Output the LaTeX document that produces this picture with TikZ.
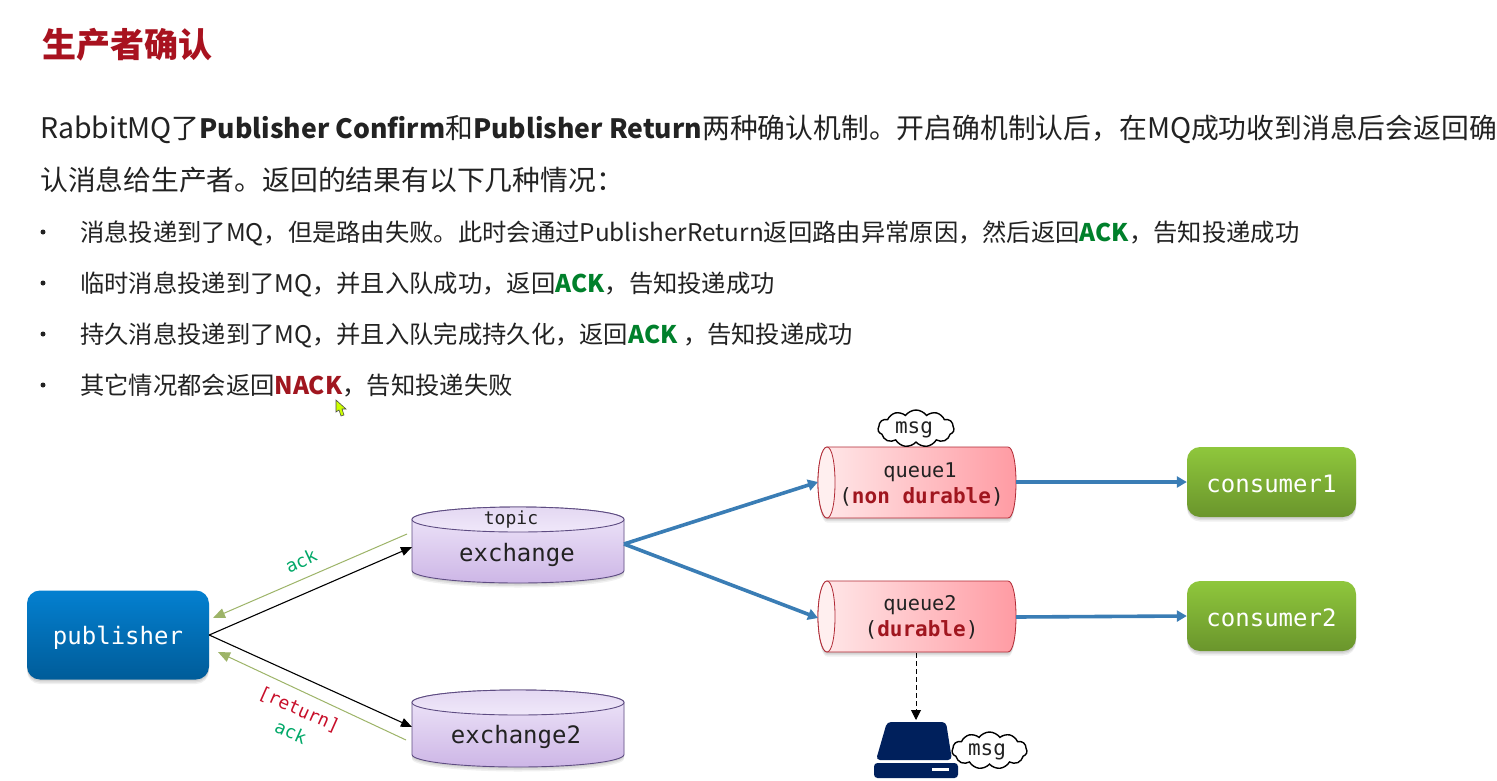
\documentclass[tikz,border=0pt]{standalone}
\usepackage{fontspec}
\setmainfont{Noto Sans CJK SC}
\setmonofont{DejaVu Sans Mono}
\usetikzlibrary{arrows.meta,shapes.symbols,shadows,calc}
\definecolor{titlered}{HTML}{A8121F}
\definecolor{okgreen}{HTML}{00802B}
\definecolor{ackgreen}{HTML}{00A868}
\definecolor{retred}{HTML}{C80F2A}
\definecolor{dkred}{HTML}{A0161F}
\definecolor{ink}{HTML}{222222}
\definecolor{flow}{HTML}{3A7DB5}
\definecolor{olive}{HTML}{9DB468}
\definecolor{navy}{HTML}{00205C}
\definecolor{lav}{HTML}{5E4C82}
\definecolor{pubtop}{HTML}{0480D0}
\definecolor{pubbot}{HTML}{005C99}
\definecolor{contop}{HTML}{8FC73C}
\definecolor{conbot}{HTML}{6A952C}
\definecolor{lavlight}{HTML}{F0E8FA}
\definecolor{lavdark}{HTML}{CDB6E6}
\definecolor{lavmid}{HTML}{E4D8F2}
\definecolor{qedge}{HTML}{B02A35}
\definecolor{qleft}{HTML}{FFE9EA}
\definecolor{qright}{HTML}{FF9BA3}
\definecolor{qcapf}{HTML}{FFEFEF}
\newcommand{\fs}[1]{\fontsize{#1}{#1}\selectfont}
\newcommand{\ok}[1]{\textcolor{okgreen}{\textbf{#1}}}
\newcommand{\lat}[1]{{\fs{26.6}#1}}
\newcommand{\reg}[1]{{\fs{28.4}#1}}
\tikzset{
  softsh/.style={
    general shadow={fill=black,opacity=.07,shadow yshift=-1.5pt},
    general shadow={fill=black,opacity=.07,shadow yshift=-3pt},
    general shadow={fill=black,opacity=.06,shadow yshift=-4.5pt}},
  line/.style={anchor=base west,inner sep=0pt,text=ink,font=\fs{24.3}},
  para/.style={line,font=\fs{27.8}},
  bulletdot/.style={circle,fill=ink,inner sep=0pt,minimum size=5pt},
  box/.style={rounded corners=13pt,minimum width=182pt,minimum height=89pt,inner sep=0pt,softsh},
  pubbox/.style={box,top color=pubtop,bottom color=pubbot},
  conbox/.style={box,minimum width=169pt,minimum height=70pt,top color=contop,bottom color=conbot},
  boxtext/.style={inner sep=0pt,text=white,font=\ttfamily\fs{24}},
  qtext/.style={inner sep=0pt,align=center,text=ink,font=\ttfamily\fs{20.3}},
  cyl/.style={draw=lav,line width=.9pt,top color=lavlight,bottom color=lavdark,softsh},
  cyltop/.style={draw=lav,line width=.9pt,top color=lavmid,bottom color=lavlight},
  qbody/.style={draw=qedge,line width=.8pt,left color=qleft,right color=qright,softsh},
  qcap/.style={draw=qedge,line width=.8pt,fill=qcapf},
  blk/.style={-{Triangle[length=11pt,width=9pt]},black,line width=1.1pt},
  ret/.style={-{Triangle[length=12pt,width=10pt]},olive,line width=1pt},
  blue/.style={-{Triangle[length=10pt,width=11pt]},flow,line width=3.6pt},
  msgcloud/.style={cloud,cloud puffs=11,cloud puff arc=110,aspect=2.2,draw=black,fill=white,line width=1.4pt,inner sep=0pt},
  msgtext/.style={inner sep=0pt,text=ink,font=\ttfamily\fs{21}},
  lab/.style={inner sep=0pt,font=\ttfamily\fs{18}}
}
\newcommand{\excyl}[3]{% top, ellipse bottom, body bottom
  \path[cyl] (412,#1+12.5) .. controls (412,#1+5.6) and (459,#1) .. (518,#1)
     .. controls (577,#1) and (624,#1+5.6) .. (624,#1+12.5)
     -- (624,#3-12.5) .. controls (624,#3-5.6) and (577,#3) .. (518,#3)
     .. controls (459,#3) and (412,#3-5.6) .. (412,#3-12.5) -- cycle;
  \path[cyltop] (412,#1+12.5) .. controls (412,#1+5.6) and (459,#1) .. (518,#1)
     .. controls (577,#1) and (624,#1+5.6) .. (624,#1+12.5)
     .. controls (624,#2-5.6) and (577,#2) .. (518,#2)
     .. controls (459,#2) and (412,#2-5.6) .. (412,#1+12.5) -- cycle;
}
\newcommand{\qcyl}[2]{% top, bottom
  \path[qbody] (827,#1) -- (1008,#1) .. controls (1013,#1) and (1016,#1+16) .. (1016,{(#1+#2)/2})
     .. controls (1016,#2-16) and (1013,#2) .. (1008,#2) -- (827,#2)
     .. controls (822,#2) and (818,#2-16) .. (818,{(#1+#2)/2})
     .. controls (818,#1+16) and (822,#1) .. (827,#1) -- cycle;
  \path[qcap] (827,#1) .. controls (832,#1) and (835,#1+16) .. (835,{(#1+#2)/2})
     .. controls (835,#2-16) and (832,#2) .. (827,#2)
     .. controls (822,#2) and (818,#2-16) .. (818,{(#1+#2)/2})
     .. controls (818,#1+16) and (822,#1) .. (827,#1) -- cycle;
}
\begin{document}
\begin{tikzpicture}[x=1pt,y=-1pt]
\useasboundingbox (0,0) rectangle (1497,780);
\fill[white] (0,0) rectangle (1497,780);
% text
\node[inner sep=0pt,anchor=base west,text=titlered,font=\fs{34}\bfseries] (title) at (42.5,57) {生产者确认};
\node[para] (p1) at (40,138) {\reg{RabbitMQ}了\lat{\textbf{Publisher Confirm}}和\lat{\textbf{Publisher Return}}两种确认机制。开启确机制认后，在\reg{MQ}成功收到消息后会返回确};
\node[para] (p2) at (40,190) {认消息给生产者。返回的结果有以下几种情况：};
\node[bulletdot] (b1) at (43,232) {};
\node[line] (l1) at (80,241) {消息投递到了MQ，但是路由失败。此时会通过PublisherReturn返回路由异常原因，然后返回\ok{ACK}，告知投递成功};
\node[bulletdot] (b2) at (43,283) {};
\node[line] (l2) at (80,292) {临时消息投递到了MQ，并且入队成功，返回\ok{ACK}，告知投递成功};
\node[bulletdot] (b3) at (43,334) {};
\node[line] (l3) at (80,343) {持久消息投递到了MQ，并且入队完成持久化，返回\ok{ACK} ，告知投递成功};
\node[bulletdot] (b4) at (43,385) {};
\node[line] (l4) at (80,394) {其它情况都会返回\textcolor{dkred}{\textbf{NACK}}，告知投递失败};
% cursor
\path[draw=black!70,line width=.6pt,fill=lime!80!yellow] (336,400) -- (336,412) -- (339,410) -- (341,416) -- (344,415) -- (342,409) -- (346,409) -- cycle;
% shapes
\excyl{507}{532}{583}
\excyl{690}{715}{767}
\qcyl{447}{518}
\qcyl{581}{652}
\node[pubbox] (pub) at (118,635) {};
\node[boxtext] (pubt) at (118,638) {publisher};
\node[conbox] (c1) at (1271.5,482) {};
\node[boxtext] (c1t) at (1271.5,484) {consumer1};
\node[conbox] (c2) at (1271.5,616) {};
\node[boxtext] (c2t) at (1271.5,618) {consumer2};
\coordinate (ex1) at (412,547);
\coordinate (ex2) at (412,727);
\node[inner sep=0pt,text=ink,font=\ttfamily\fs{24}] (ex1t) at (517,555) {exchange};
\node[inner sep=0pt,text=ink,font=\ttfamily\fs{24}] (ex2t) at (516,737) {exchange2};
\node[inner sep=0pt,text=ink,font=\ttfamily\fs{18}] (topic) at (511,520) {topic};
\coordinate (q1o) at (1016,482);
\coordinate (q2o) at (1016,617);
\node[qtext] (q1a) at (920,472) {queue1};
\node[qtext,font=\ttfamily\fs{21}] (q1b) at (921.5,497) {(\textcolor{dkred}{\textbf{non durable}})};
\node[qtext] (q2a) at (920,605) {queue2};
\node[qtext,font=\ttfamily\fs{21}] (q2b) at (921.5,630) {(\textcolor{dkred}{\textbf{durable}})};
% disk
\coordinate (disktop) at (916,720);
\path[fill=navy,rounded corners=4pt] (887,722) -- (946,722) -- (952,760) -- (876,760) -- cycle;
\path[fill=navy,rounded corners=3.5pt] (874,763) rectangle (958,778);
\path[fill=white] (932,768) rectangle (949,771);
% clouds
\node[msgcloud,minimum width=76pt,minimum height=37pt] (m1) at (916,428.5) {};
\node[msgtext] (m1t) at (914,430) {msg};
\node[msgcloud,minimum width=75pt,minimum height=37pt] (m2) at (989.5,750.5) {};
\node[msgtext] (m2t) at (987,752) {msg};
% connectors
\coordinate (g1s) at (407,534);
\coordinate (g1e) at (213,618);
\coordinate (g2s) at (406,740);
\coordinate (g2e) at (218,652);
\draw[ret] (g1s) -- (g1e);
\draw[ret] (g2s) -- (g2e);
\draw[blk] (pub.east) -- (ex1);
\draw[blk] (pub.east) -- (ex2);
\coordinate (exout) at (624,544);
\coordinate (q1in) at (818,482);
\coordinate (q2in) at (818,618);
\draw[blue] (exout) -- (q1in);
\draw[blue] (exout) -- (q2in);
\draw[blue] (q1o) -- (c1.west);
\draw[blue] (q2o) -- (c2.west);
\coordinate (q2s) at (916,653);
\draw[black,line width=.9pt,dash pattern=on 5pt off 3pt,-{Triangle[length=10pt,width=10pt]}] (q2s) -- (disktop);
% labels
\node[lab,text=ackgreen,rotate=25] (a1) at (301,561) {ack};
\node[lab,text=retred,rotate=-24] (r1) at (299,710) {[return]};
\node[lab,text=ackgreen,rotate=-24] (a2) at (291,732) {ack};
\end{tikzpicture}
\end{document}
